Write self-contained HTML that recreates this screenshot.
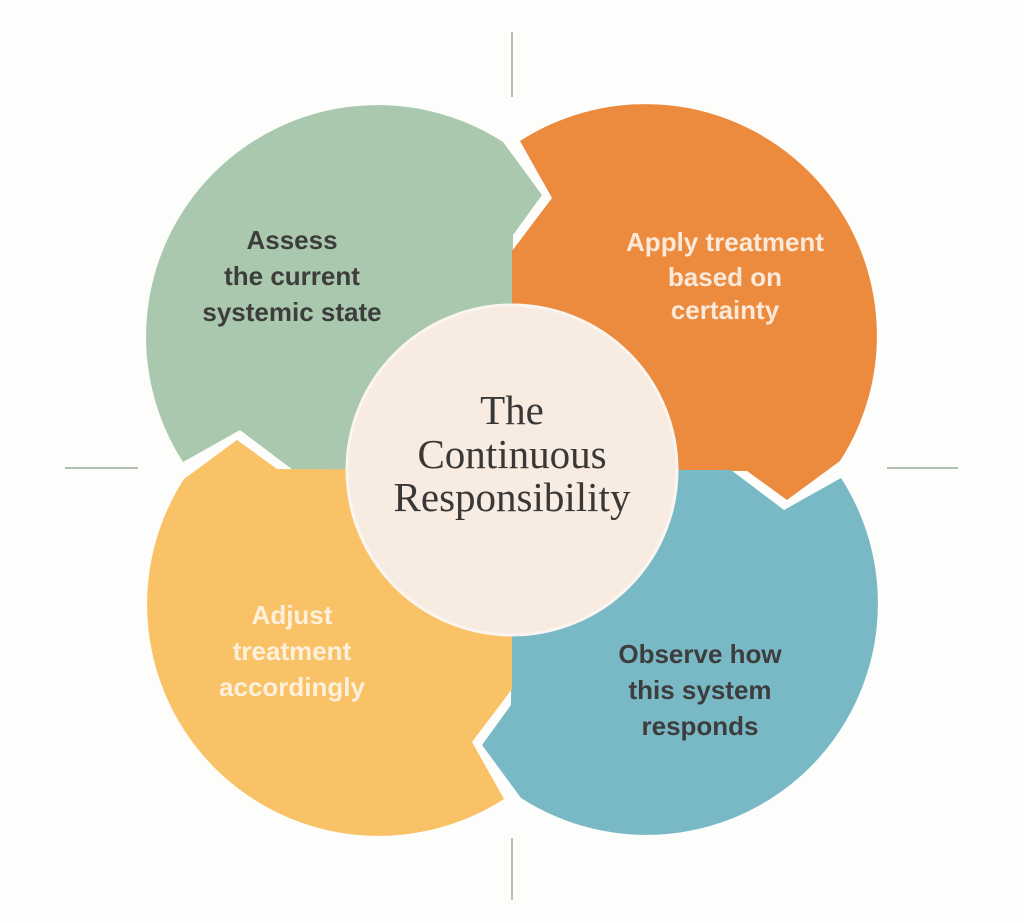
<!DOCTYPE html>
<html><head><meta charset="utf-8"><style>
html,body{margin:0;padding:0;background:#fdfdfb;}
svg{display:block}
.lb{font-family:"Liberation Sans",sans-serif;font-weight:bold;font-size:26px;text-anchor:middle}
.ct{font-family:"Liberation Serif",serif;font-size:41px;fill:#3a3836;text-anchor:middle}
</style></head><body>
<svg width="1024" height="923" viewBox="0 0 1024 923" xmlns="http://www.w3.org/2000/svg">
<rect width="1024" height="923" fill="#fdfdfb"/>
<g stroke="#9aab9c" stroke-width="1.5">
<line x1="512" y1="32" x2="512" y2="97"/>
<line x1="512" y1="838" x2="512" y2="900"/>
<line x1="65" y1="468" x2="138" y2="468"/>
<line x1="887" y1="468" x2="958" y2="468"/>
</g>
<defs>
<path id="q" d="M512 470 L293 470 L240 430 L183 462 A231.5 231.5 0 0 1 503 142 L542 195 L513 235 Z"/>
</defs>
<use href="#q" fill="#a9c8ad"/>
<use href="#q" fill="#ec8a3e" transform="rotate(90 512 470)"/>
<use href="#q" fill="#79b9c5" transform="rotate(180 512 470)"/>
<use href="#q" fill="#f9c267" transform="rotate(270 512 470)"/>
<circle cx="512" cy="470" r="165" fill="#f8ebe2" stroke="#fbf5f0" stroke-width="3"/>
<text class="ct" x="512" y="424">The</text>
<text class="ct" x="512" y="468">Continuous</text>
<text class="ct" x="512" y="511">Responsibility</text>
<g class="lb" fill="#3d3d3d">
<text x="292" y="249">Assess</text>
<text x="292" y="285">the current</text>
<text x="292" y="321">systemic state</text>
<text x="700" y="663">Observe how</text>
<text x="700" y="699">this system</text>
<text x="700" y="735">responds</text>
</g>
<g class="lb" fill="#fbe9da">
<text x="725" y="251">Apply treatment</text>
<text x="725" y="286">based on</text>
<text x="725" y="319">certainty</text>
</g>
<g class="lb" fill="#fdf0dc">
<text x="292" y="624">Adjust</text>
<text x="292" y="660">treatment</text>
<text x="292" y="696">accordingly</text>
</g>
</svg>
</body></html>
